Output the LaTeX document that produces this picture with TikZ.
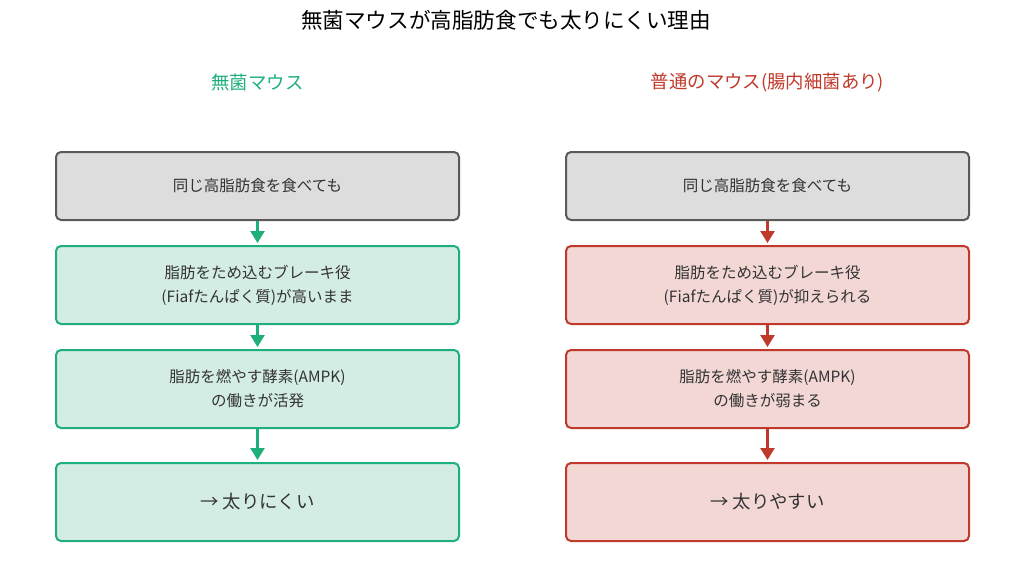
\documentclass[tikz,border=0pt]{standalone}
\usepackage{fontspec}
\setmainfont{Noto Sans CJK JP}
\usetikzlibrary{arrows.meta}
\definecolor{grn}{HTML}{1FAF7A}
\definecolor{grnfill}{HTML}{D4EDE4}
\definecolor{redc}{HTML}{C0392B}
\definecolor{redfill}{HTML}{F2D7D5}
\definecolor{gryfill}{HTML}{DDDDDD}
\definecolor{gryline}{HTML}{5A5A5A}
\definecolor{txt}{HTML}{333333}
\tikzset{
  box/.style={rounded corners=5pt, line width=2pt, minimum width=403pt, align=center, text=txt, font=\fontsize{15.5}{24}\selectfont, inner sep=0pt},
  graybox/.style={box, draw=gryline, fill=gryfill, minimum height=68pt},
  gbox/.style={box, draw=grn, fill=grnfill, minimum height=78pt},
  rbox/.style={box, draw=redc, fill=redfill, minimum height=78pt},
  bigtext/.style={font=\fontsize{18.4}{24}\selectfont},
  garr/.style={draw=grn, line width=2.5pt, -{Triangle[length=12pt,width=14pt]}, shorten >=2pt},
  rarr/.style={draw=redc, line width=2.5pt, -{Triangle[length=12pt,width=14pt]}, shorten >=2pt},
}
\begin{document}
\begin{tikzpicture}[x=1pt,y=-1pt]
\useasboundingbox (0,0) rectangle (1024,586);
\node[text=black, font=\fontsize{21.6}{26}\selectfont] (title) at (506,20) {無菌マウスが高脂肪食でも太りにくい理由};
\node[text=grn, bigtext] (lh) at (257.5,83) {無菌マウス};
\node[text=redc, bigtext] (rh) at (767.5,83) {普通のマウス(腸内細菌あり)};

\node[graybox] (l1) at (257.5,186) {同じ高脂肪食を食べても};
\node[gbox] (l2) at (257.5,285) {脂肪をため込むブレーキ役\\(Fiafたんぱく質)が高いまま};
\node[gbox] (l3) at (257.5,389) {脂肪を燃やす酵素(AMPK)\\の働きが活発};
\node[gbox, bigtext] (l4) at (257.5,502) {→ 太りにくい};

\node[graybox] (r1) at (767.5,186) {同じ高脂肪食を食べても};
\node[rbox] (r2) at (767.5,285) {脂肪をため込むブレーキ役\\(Fiafたんぱく質)が抑えられる};
\node[rbox] (r3) at (767.5,389) {脂肪を燃やす酵素(AMPK)\\の働きが弱まる};
\node[rbox, bigtext] (r4) at (767.5,502) {→ 太りやすい};

\draw[garr] (l1) -- (l2);
\draw[garr] (l2) -- (l3);
\draw[garr] (l3) -- (l4);
\draw[rarr] (r1) -- (r2);
\draw[rarr] (r2) -- (r3);
\draw[rarr] (r3) -- (r4);
\end{tikzpicture}
\end{document}
